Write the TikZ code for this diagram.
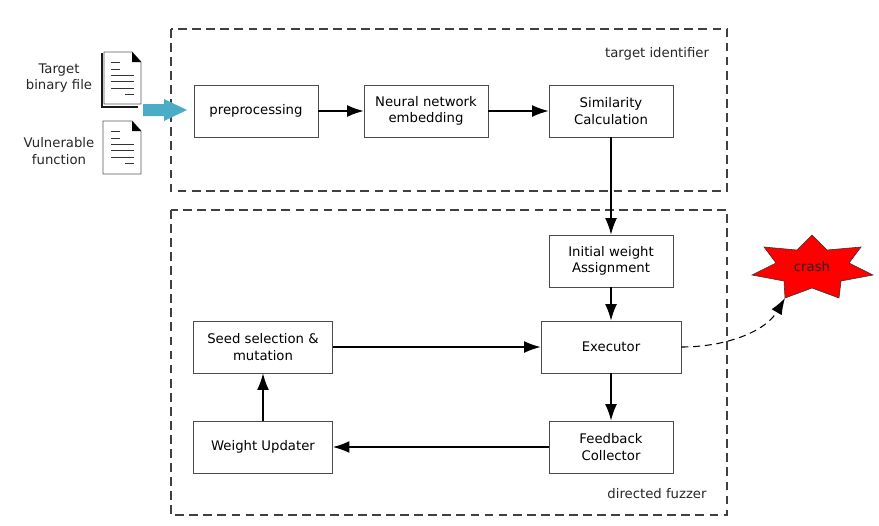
\documentclass[tikz,border=0pt]{standalone}
\usepackage{fontspec}
\setmainfont{DejaVu Sans}
\usepackage{xcolor}
\usetikzlibrary{positioning,arrows.meta}
\definecolor{inputblue}{HTML}{4BACC6}
\tikzset{
	block/.style={draw=black!70, line width=0.7pt, fill=white, minimum width=3.72cm, minimum height=1.56cm, align=center, inner sep=2pt},
	wideblock/.style={block, minimum width=4.17cm},
	frame/.style={draw=black!75, line width=0.95pt, dash pattern=on 7.5pt off 4.5pt},
	flow/.style={-{Latex[length=14pt,width=10pt]}, line width=1pt, black},
	label/.style={align=center, inner sep=0pt, font=\fontsize{11.3}{13.8}\selectfont, text=black!85},
	page/.style={draw=black!65, line width=0.8pt, fill=white},
	pageline/.style={draw=black!80, line width=0.8pt},
}
\begin{document}
\begin{tikzpicture}[x=0.03cm, y=-0.03cm, font=\fontsize{11.3}{13.8}\selectfont]
	\useasboundingbox (0,0) rectangle (879,525);
	% Cadres en pointillés
	\draw[frame] (171,29) rectangle (727,191);
	\draw[frame] (171,210) rectangle (727,515);
	\node[label] (identifierlabel) at (657,54) {target identifier};
	\node[label] (fuzzerlabel) at (657,494) {directed fuzzer};

	% Fichiers en entrée
	\node[label] (binarylabel) at (59,78) {Target\\binary file};
	\node[label] (vulnlabel) at (59,151) {Vulnerable\\function};
	\draw[black!90, line width=1.2pt] (102,53) -- (102,107) -- (138,107);
	\draw[page] (104,52) -- (132,52) -- (141,62) -- (141,104) -- (104,104) -- cycle;
	\fill[black] (132,52) -- (141,62) -- (132,62) -- cycle;
	\draw[page] (103,121) -- (132,121) -- (141,131) -- (141,174) -- (103,174) -- cycle;
	\fill[black] (132,121) -- (141,131) -- (132,131) -- cycle;
	\foreach \dy in {0,69} {
		\draw[pageline] (111,62+\dy) -- (120,62+\dy);
		\draw[pageline] (111,69+\dy) -- (120,69+\dy);
		\draw[pageline] (111,75+\dy) -- (134,75+\dy);
		\draw[pageline] (111,81.5+\dy) -- (134,81.5+\dy);
		\draw[pageline] (111,88+\dy) -- (134,88+\dy);
		\draw[pageline] (125,94+\dy) -- (134,94+\dy);
	}
	\fill[inputblue] (143,104) -- (164,104) -- (164,99) -- (187,110) -- (164,121) -- (164,116) -- (143,116) -- cycle;

	% Blocs
	\node[block] (preprocessing) at (256,111) {preprocessing};
	\node[block] (embedding) at (426,111) {Neural network\\embedding};
	\node[block] (similarity) at (611,111) {Similarity\\Calculation};
	\node[block] (initial) at (611,261) {Initial weight\\Assignment};
	\node[wideblock, minimum width=4.2cm] (executor) at (611,347) {Executor};
	\node[wideblock] (seed) at (263,347) {Seed selection \&\\mutation};
	\node[wideblock] (updater) at (263,447) {Weight Updater};
	\node[block] (feedback) at (611,447) {Feedback\\Collector};

	% Explosion
	\draw[fill=red, draw=black!80, line width=0.5pt] (812,235) -- (827,250) -- (861,247) -- (849,263) -- (873,275) -- (841,281) -- (839,298) -- (812,288) -- (785,298) -- (784,281) -- (752,275) -- (776,263) -- (764,247) -- (797,250) -- cycle;
	\node[label] (crash) at (812,267) {crash};
	\coordinate (crashtip) at (785,298);

	% Liaisons
	\draw[flow] (preprocessing) -- (embedding);
	\draw[flow] (embedding) -- (similarity);
	\draw[flow] (similarity) -- (initial);
	\draw[flow] (initial) -- (executor);
	\draw[flow] (executor) -- (feedback);
	\draw[flow] (feedback) -- (updater);
	\draw[flow] (updater) -- (seed);
	\draw[flow] (seed) -- (executor);
	\draw[-{Latex[length=14pt,width=10pt]}, line width=0.9pt, dash pattern=on 6pt off 4pt] (executor.east) .. controls (725,347) and (765,332) .. (crashtip);
\end{tikzpicture}
\end{document}
